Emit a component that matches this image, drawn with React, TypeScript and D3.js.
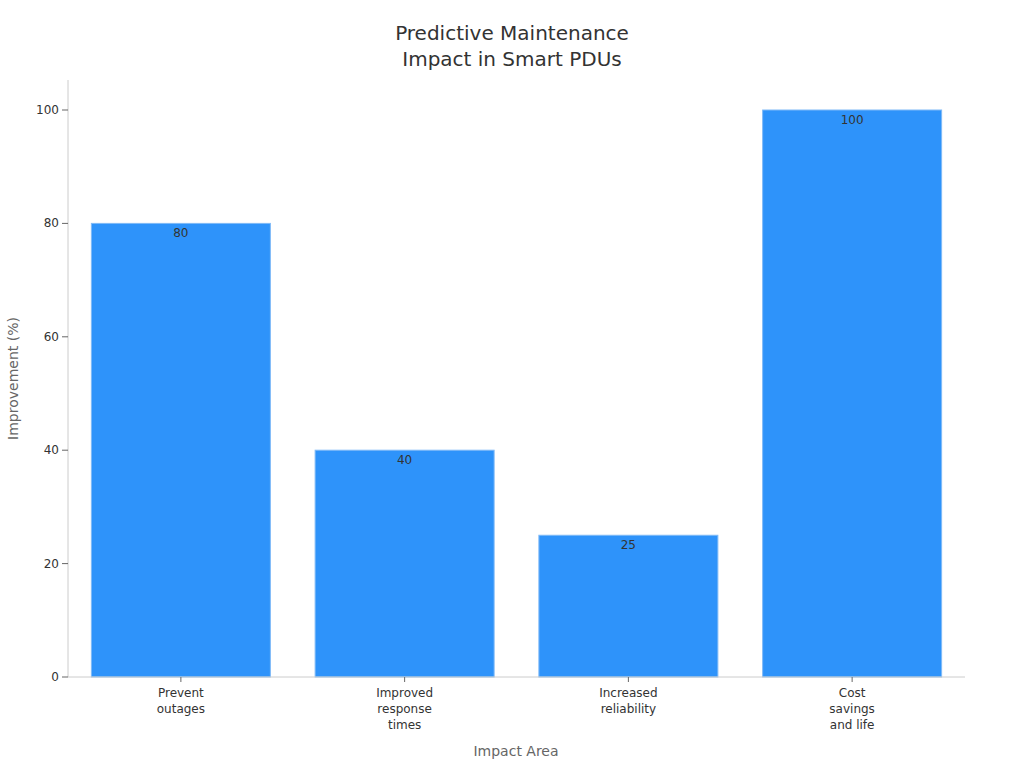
import React from "react";
import * as d3 from "d3";

const categories: string[][] = [
  ["Prevent", "outages"],
  ["Improved", "response", "times"],
  ["Increased", "reliability"],
  ["Cost", "savings", "and life"],
];
const values: number[] = [80, 40, 25, 100];
const yTicks: number[] = [0, 20, 40, 60, 80, 100];

const W = 1024;
const H = 768;
const margin = { left: 68, right: 61, top: 80, bottom: 91 };
const FONT = "'DejaVu Sans', sans-serif";

export default function App() {
  const x = d3
    .scaleBand<number>()
    .domain(values.map((_, i) => i))
    .range([margin.left + 1, W - margin.right + 1])
    .paddingInner(0.2)
    .paddingOuter(0.1);
  const y = d3
    .scaleLinear()
    .domain([0, 100])
    .range([H - margin.bottom, 110]);
  const y0 = y(0);

  return (
    <svg
      width={W}
      height={H}
      style={{ position: "absolute", left: 0, top: 0, background: "#fff" }}
      fontFamily={FONT}
    >
      <text x={512} y={40} textAnchor="middle" fontSize={20} fill="#333">
        Predictive Maintenance
      </text>
      <text x={512} y={66} textAnchor="middle" fontSize={20} fill="#333">
        Impact in Smart PDUs
      </text>

      {values.map((v, i) => (
        <g key={i}>
          <rect
            x={x(i)}
            y={y(v)}
            width={x.bandwidth()}
            height={y0 - y(v)}
            fill="#2E93FA"
            stroke="#7FBAF7"
            strokeWidth={1}
          />
          <text
            x={(x(i) as number) + x.bandwidth() / 2}
            y={y(v) + 14}
            textAnchor="middle"
            fontSize={12}
            fill="#333"
          >
            {v}
          </text>
        </g>
      ))}

      <line x1={margin.left} x2={margin.left} y1={margin.top} y2={y0} stroke="#ccc" />
      <line x1={margin.left} x2={W - margin.right + 2} y1={y0} y2={y0} stroke="#ccc" />

      {yTicks.map((t) => (
        <g key={t}>
          <line x1={margin.left - 6} x2={margin.left} y1={y(t)} y2={y(t)} stroke="#666" />
          <text
            x={margin.left - 9}
            y={y(t) + 4}
            textAnchor="end"
            fontSize={12}
            fill="#333"
          >
            {t}
          </text>
        </g>
      ))}

      {categories.map((lines, i) => {
        const cx = (x(i) as number) + x.bandwidth() / 2;
        return (
          <g key={i}>
            <line x1={cx} x2={cx} y1={y0} y2={y0 + 5} stroke="#666" />
            {lines.map((l, j) => (
              <text
                key={j}
                x={cx}
                y={697 + j * 16}
                textAnchor="middle"
                fontSize={12}
                fill="#333"
              >
                {l}
              </text>
            ))}
          </g>
        );
      })}

      <text
        transform={`translate(18, ${(margin.top + y0) / 2}) rotate(-90)`}
        textAnchor="middle"
        fontSize={14}
        fill="#666"
      >
        Improvement (%)
      </text>
      <text x={516} y={756} textAnchor="middle" fontSize={14} fill="#666">
        Impact Area
      </text>
    </svg>
  );
}
